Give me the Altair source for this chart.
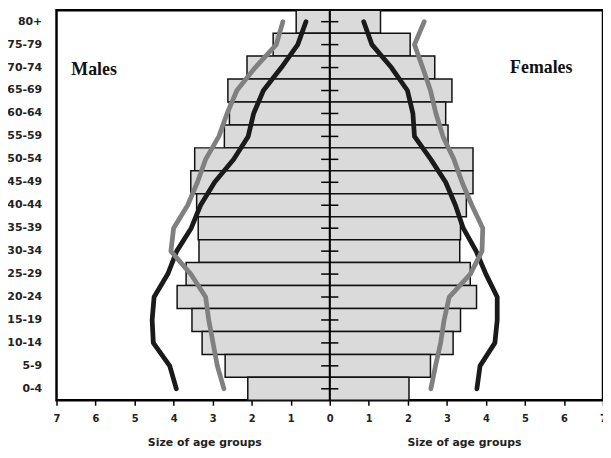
import altair as alt
import pandas as pd

ages = ["80+", "75-79", "70-74", "65-69", "60-64", "55-59", "50-54", "45-49", "40-44",
        "35-39", "30-34", "25-29", "20-24", "15-19", "10-14", "5-9", "0-4"]
male_bars = [0.86, 1.45, 2.12, 2.61, 2.57, 2.7, 3.46, 3.56, 3.41, 3.37, 3.35, 3.68, 3.91, 3.53, 3.27, 2.68, 2.1]
female_bars = [1.30, 2.06, 2.69, 3.13, 2.97, 3.03, 3.67, 3.67, 3.5, 3.35, 3.33, 3.6, 3.76, 3.35, 3.16, 2.58, 2.03]
male_black = [0.61, 0.82, 1.24, 1.7, 1.95, 2.09, 2.46, 2.95, 3.31, 3.55, 3.92, 4.15, 4.5, 4.55, 4.52, 4.1, 3.93]
male_gray = [1.2, 1.37, 1.91, 2.38, 2.63, 2.84, 3.18, 3.39, 3.64, 4.0, 4.07, 3.56, 3.18, 3.1, 2.99, 2.88, 2.71]
female_black = [0.87, 1.08, 1.58, 1.99, 2.13, 2.17, 2.59, 2.97, 3.22, 3.42, 3.75, 4.0, 4.29, 4.29, 4.23, 3.85, 3.77]
female_gray = [2.42, 2.17, 2.38, 2.58, 2.72, 2.9, 3.18, 3.39, 3.64, 3.92, 3.9, 3.6, 3.06, 2.93, 2.84, 2.71, 2.59]
x_ticks = list(range(-7, 8))

bars_df = pd.DataFrame({
    "age": ages + ages,
    "value": [-v for v in male_bars] + female_bars,
})

rows = []
for name, vals, sign in [("mb", male_black, -1), ("mg", male_gray, -1),
                         ("fb", female_black, 1), ("fg", female_gray, 1)]:
    for i, (a, v) in enumerate(zip(ages, vals)):
        rows.append({"age": a, "value": sign * v, "series": name, "idx": i})
lines_df = pd.DataFrame(rows)
ages_df = pd.DataFrame({"age": ages})
one = pd.DataFrame({"a": [0]})

x_enc = alt.X("value:Q",
              scale=alt.Scale(domain=[-7, 7], nice=False),
              axis=alt.Axis(values=x_ticks, tickCount=30, labelExpr="abs(datum.value)", title=None,
                            grid=False, domain=False, ticks=True, tickSize=5, tickColor="black",
                            tickWidth=1.5, labelOverlap=False, labelFlush=False, labelBound=False,
                            labelFont="DejaVu Sans", labelFontWeight="bold", labelFontSize=10,
                            labelColor="#222", labelPadding=8))
y_enc = alt.Y("age:N", sort=ages,
              scale=alt.Scale(paddingInner=0, paddingOuter=0),
              axis=alt.Axis(title=None, ticks=False, domain=False, grid=False,
                            labelFont="DejaVu Sans", labelFontWeight="bold", labelFontSize=11,
                            labelColor="#222", labelPadding=15))

bars = alt.Chart(bars_df).mark_bar(fill="#dadada", stroke="#111", strokeWidth=1.5).encode(
    x=x_enc, y=y_enc)

center = alt.Chart(one).mark_rule(color="black", strokeWidth=2).encode(x=alt.datum(0))

cticks = alt.Chart(ages_df).mark_rule(color="black", strokeWidth=1.5).encode(
    x=alt.datum(-0.22), x2=alt.datum(0.22), y=alt.Y("age:N", sort=ages))

lines = alt.Chart(lines_df).mark_line(strokeWidth=4.8, strokeCap="round", strokeJoin="round").encode(
    x="value:Q", y=alt.Y("age:N", sort=ages),
    detail="series:N", order="idx:Q",
    color=alt.Color("series:N", scale=alt.Scale(domain=["mb", "mg", "fb", "fg"],
                                                range=["#1a1a1a", "#808080", "#1a1a1a", "#808080"]),
                    legend=None))

males = alt.Chart(one).mark_text(font="Liberation Serif", fontWeight="bold", fontSize=18,
                                 align="left", baseline="middle", color="#111").encode(
    x=alt.datum(-6.62), y=alt.value(60), text=alt.value("Males"))
females = alt.Chart(one).mark_text(font="Liberation Serif", fontWeight="bold", fontSize=18,
                                   align="left", baseline="middle", color="#111").encode(
    x=alt.datum(4.62), y=alt.value(58), text=alt.value("Females"))

t1 = alt.Chart(one).mark_text(font="DejaVu Sans", fontWeight="bold", fontSize=11,
                              align="center", baseline="middle", color="#222").encode(
    x=alt.datum(-3.2), y=alt.value(437), text=alt.value("Size of age groups"))
t2 = alt.Chart(one).mark_text(font="DejaVu Sans", fontWeight="bold", fontSize=11,
                              align="center", baseline="middle", color="#222").encode(
    x=alt.datum(3.45), y=alt.value(437), text=alt.value("Size of age groups"))

chart = alt.layer(bars, center, cticks, lines, males, females, t1, t2).properties(
    width=552, height=394,
    padding={"left": 49, "top": 0, "right": 0, "bottom": 48},
    autosize=alt.AutoSizeParams(type="none"),
).configure_view(stroke="black", strokeWidth=2.5)

chart.save("out.html", embed_options={"renderer": "svg", "actions": False})
